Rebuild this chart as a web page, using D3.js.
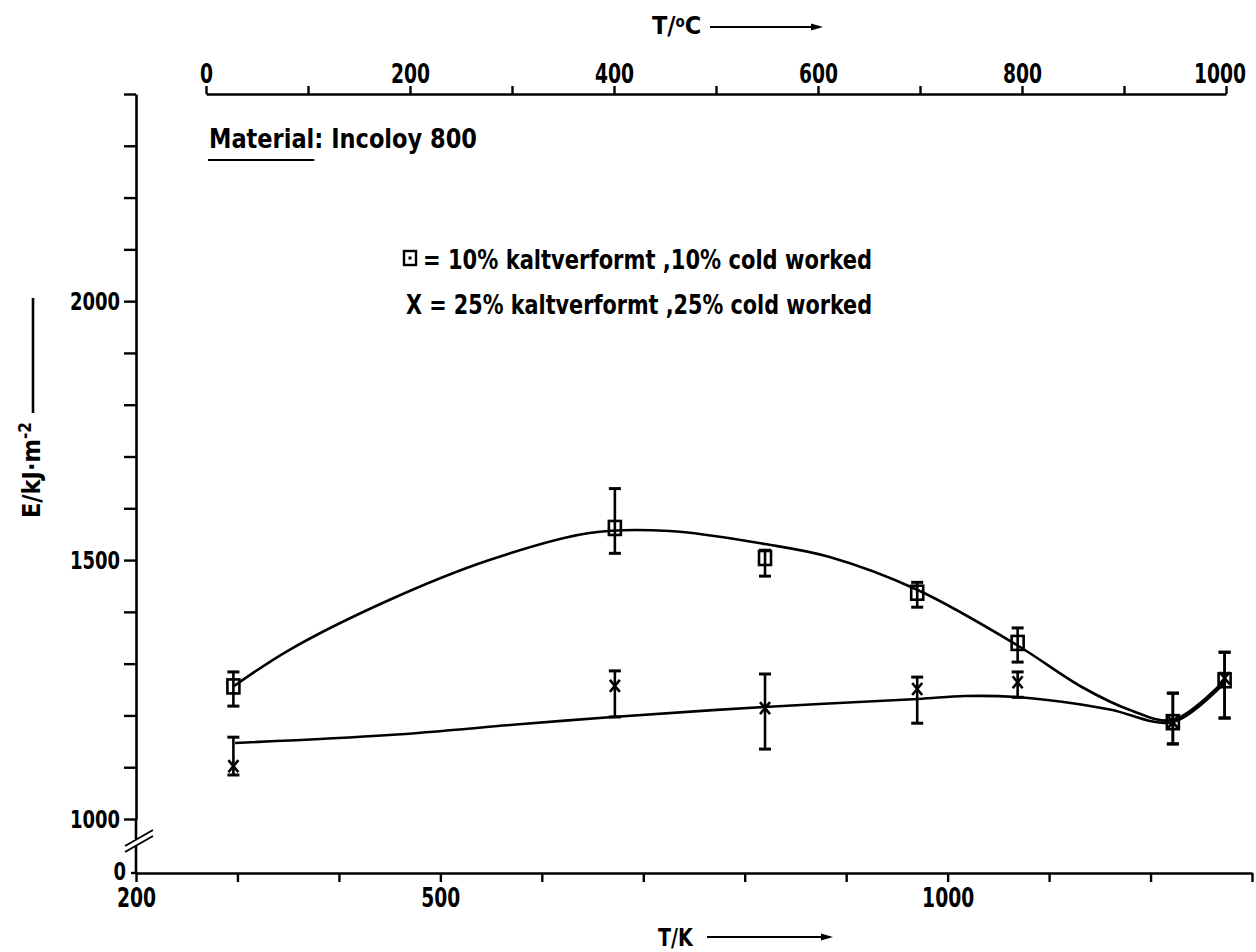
<!DOCTYPE html>
<html><head><meta charset="utf-8">
<script src="https://cdn.jsdelivr.net/npm/d3@7"></script>
<style>
html,body{margin:0;padding:0;background:#fff;}
svg text{font-family:"Liberation Sans Narrow","DejaVu Sans Condensed",sans-serif;font-weight:bold;fill:#000;}
</style></head><body>
<svg id="c" width="1256" height="952"></svg>
<script>
// ---- data ----
const tempK      = [296, 672, 820, 970, 1069, 1222, 1273];
const cold10     = [1256, 1562, 1504, 1437, 1340, 1187, 1268];
const cold10Lo   = [1218, 1513, 1469, 1409, 1303, 1145, 1195];
const cold10Hi   = [1284, 1638, 1519, 1457, 1369, 1243, 1322];
const cold25     = [1102, 1257, 1214, 1251, 1264, 1187, 1272];
const cold25Lo   = [1085, 1197, 1135, 1185, 1235, 1145, 1195];
const cold25Hi   = [1158, 1286, 1280, 1274, 1284, 1243, 1322];
// fitted curves drawn in the original
const fit10K = [296.7, 350.9, 449.6, 548.3, 646.9, 725.9, 819.6, 883.7, 970.5, 1068.2, 1132.3, 1179.7, 1222.1, 1273.4];
const fit10E = [1256.8, 1326.3, 1422.9, 1500.1, 1552.3, 1556.1, 1531.0, 1505.9, 1442.2, 1336.0, 1254.9, 1210.5, 1191.2, 1268.4];
const fit25K = [297.7, 449.6, 580.8, 669.6, 819.6, 970.5, 1016.9, 1068.2, 1110.6, 1159.9, 1222.1, 1273.4];
const fit25E = [1146.8, 1162.2, 1183.4, 1197.0, 1216.3, 1231.7, 1237.4, 1235.6, 1226.9, 1211.5, 1187.3, 1264.5];
const kTicks = [200, 300, 400, 500, 600, 700, 800, 900, 1000, 1100, 1200, 1300];
const kLabels = [200, 500, 1000];
const cTicks = [0, 100, 200, 300, 400, 500, 600, 700, 800, 900, 1000];
const cLabels = [0, 200, 400, 600, 800, 1000];
const eTicks = [1000, 1100, 1200, 1300, 1400, 1500, 1600, 1700, 1800, 1900, 2000, 2100, 2200, 2300, 2400];
const eLabels = [1000, 1500, 2000];
const legendTexts = ["= 10% kaltverformt ,10% cold worked", "X = 25% kaltverformt ,25% cold worked"];
const materialLabel = ["Material", ": Incoloy 800"];

// ---- layout ----
const svg = d3.select("#c");
const axX0 = 136, axY0 = 873;
const xK = d3.scaleLinear().domain([200, 1300]).range([axX0, 1252]);
const xC = d3.scaleLinear().domain([0, 1000]).range([206, 1226]);
const yE = d3.scaleLinear().domain([1000, 2400]).range([819, 94]);
const topY = 94;

// horizontally condense a text element (the original uses a narrow typewriter face)
function squeeze(sel, f) {
  sel.each(function () {
    const t = d3.select(this);
    const x = +t.attr("x") || 0;
    t.attr("x", x / f).attr("transform", `scale(${f},1)`);
  });
}

function styleAxis(g, fs) {
  g.attr("font-family", null).attr("font-size", null);
  g.select(".domain").attr("stroke", "#000").attr("stroke-width", 2.6);
  g.selectAll(".tick line").attr("stroke", "#000").attr("stroke-width", 2.4);
  g.selectAll(".tick text").attr("font-size", fs).attr("fill", "#000");
  squeeze(g.selectAll(".tick text"), 0.8);
}

// bottom axis
const gB = svg.append("g").attr("transform", `translate(0,${axY0})`)
  .call(d3.axisBottom(xK).tickValues(kTicks).tickSize(9).tickSizeOuter(0).tickPadding(7)
    .tickFormat(d => kLabels.includes(d) ? d : ""));
styleAxis(gB, 26);

// top axis
const gT = svg.append("g").attr("transform", `translate(0,${topY})`)
  .call(d3.axisTop(xC).tickValues(cTicks).tickSize(8).tickSizeOuter(0).tickPadding(3)
    .tickFormat(d => cLabels.includes(d) ? d : ""));
styleAxis(gT, 26);
gT.selectAll(".tick text").filter(d => d === 1000).attr("dx", -8);

// left axis
const gL = svg.append("g").attr("transform", `translate(${axX0},0)`)
  .call(d3.axisLeft(yE).tickValues(eTicks).tickSize(12).tickSizeOuter(0).tickPadding(4)
    .tickFormat(d => eLabels.includes(d) ? d : ""));
styleAxis(gL, 25);

// left axis lower part with break, and zero
const brk1 = 836, brk2 = 848;
svg.append("line").attr("x1", axX0).attr("x2", axX0).attr("y1", yE(1000)).attr("y2", brk1 + 3)
  .attr("stroke", "#000").attr("stroke-width", 2.6);
svg.append("line").attr("x1", axX0).attr("x2", axX0).attr("y1", brk2 - 2).attr("y2", axY0)
  .attr("stroke", "#000").attr("stroke-width", 2.6);
[0, 6].forEach(o => {
  svg.append("line").attr("x1", axX0 - 11).attr("y1", brk2 + 4 + o - 6)
    .attr("x2", axX0 + 17).attr("y2", brk1 - 6 + o)
    .attr("stroke", "#000").attr("stroke-width", 2);
});
svg.append("line").attr("x1", axX0 - 5).attr("x2", axX0).attr("y1", axY0).attr("y2", axY0)
  .attr("stroke", "#000").attr("stroke-width", 2.4);
const t0 = svg.append("text").attr("x", axX0 - 10).attr("y", axY0 - 2).attr("dy", "0.36em")
  .attr("text-anchor", "end").attr("font-size", 25).text("0");
squeeze(t0, 0.8);

// axis titles
const tC = svg.append("text").attr("x", 652).attr("y", 34).attr("font-size", 25);
tC.append("tspan").text("T/");
tC.append("tspan").attr("dy", -7).attr("font-size", 15).text("o");
tC.append("tspan").attr("dy", 7).text("C");
function arrow(x1, x2, y) {
  svg.append("line").attr("x1", x1).attr("x2", x2 - 8).attr("y1", y).attr("y2", y)
    .attr("stroke", "#000").attr("stroke-width", 2);
  svg.append("path").attr("d", `M${x2 - 12},${y - 3.5}L${x2},${y}L${x2 - 12},${y + 3.5}Z`).attr("fill", "#000");
}
arrow(710, 823, 27);
const tK = svg.append("text").attr("x", 658).attr("y", 946).attr("font-size", 25).text("T/K");
squeeze(tK, 0.85);
arrow(707, 833, 937);

const tE = svg.append("text").attr("transform", "translate(40,518) rotate(-90)").attr("font-size", 25);
tE.append("tspan").text("E/kJ·m");
tE.append("tspan").attr("dy", -9).attr("font-size", 17).text("-2");
svg.append("line").attr("x1", 33).attr("x2", 33).attr("y1", 298).attr("y2", 413)
  .attr("stroke", "#000").attr("stroke-width", 2.6);

// material label
const tM = svg.append("text").attr("x", 209).attr("y", 148).attr("font-size", 27)
  .text(materialLabel[0] + materialLabel[1])
  .attr("textLength", 268).attr("lengthAdjust", "spacingAndGlyphs");
const ulEnd = 209 + tM.node().getSubStringLength(0, materialLabel[0].length);
svg.append("line").attr("x1", 208).attr("x2", ulEnd).attr("y1", 160).attr("y2", 160)
  .attr("stroke", "#000").attr("stroke-width", 2);

// legend
svg.append("rect").attr("x", 404).attr("y", 251).attr("width", 12).attr("height", 14)
  .attr("fill", "none").attr("stroke", "#000").attr("stroke-width", 2.4);
svg.append("rect").attr("x", 408.5).attr("y", 256.5).attr("width", 3).attr("height", 3).attr("fill", "#000");
svg.append("text").attr("x", 423).attr("y", 269).attr("font-size", 26).text(legendTexts[0])
  .attr("textLength", 449).attr("lengthAdjust", "spacingAndGlyphs");
svg.append("text").attr("x", 406).attr("y", 314).attr("font-size", 26).text(legendTexts[1])
  .attr("textLength", 466).attr("lengthAdjust", "spacingAndGlyphs");

// curves
const line = d3.line().x(d => xK(d[0])).y(d => yE(d[1])).curve(d3.curveCatmullRom.alpha(0.5));
svg.append("path").datum(fit10K.map((k, i) => [k, fit10E[i]])).attr("d", line)
  .attr("fill", "none").attr("stroke", "#000").attr("stroke-width", 2.6);
svg.append("path").datum(fit25K.map((k, i) => [k, fit25E[i]])).attr("d", line)
  .attr("fill", "none").attr("stroke", "#000").attr("stroke-width", 2.6);

// error bars
function errBars(vLo, vHi) {
  const g = svg.append("g").attr("stroke", "#000");
  tempK.forEach((k, i) => {
    const x = xK(k);
    g.append("line").attr("x1", x).attr("x2", x).attr("y1", yE(vLo[i])).attr("y2", yE(vHi[i])).attr("stroke-width", 2.6);
    [vLo[i], vHi[i]].forEach(v => g.append("line").attr("x1", x - 6).attr("x2", x + 6)
      .attr("y1", yE(v)).attr("y2", yE(v)).attr("stroke-width", 3));
  });
}
errBars(cold10Lo, cold10Hi);
errBars(cold25Lo, cold25Hi);

// markers
svg.append("g").selectAll("rect").data(tempK).join("rect")
  .attr("x", d => xK(d) - 6).attr("y", (d, i) => yE(cold10[i]) - 7)
  .attr("width", 12).attr("height", 14).attr("fill", "none").attr("stroke", "#000").attr("stroke-width", 2.6);
svg.append("g").selectAll("path").data(tempK).join("path")
  .attr("transform", (d, i) => `translate(${xK(d)},${yE(cold25[i])})`)
  .attr("d", "M-5,-6L5,6M5,-6L-5,6").attr("fill", "none").attr("stroke", "#000").attr("stroke-width", 2.6);
</script>
</body></html>
